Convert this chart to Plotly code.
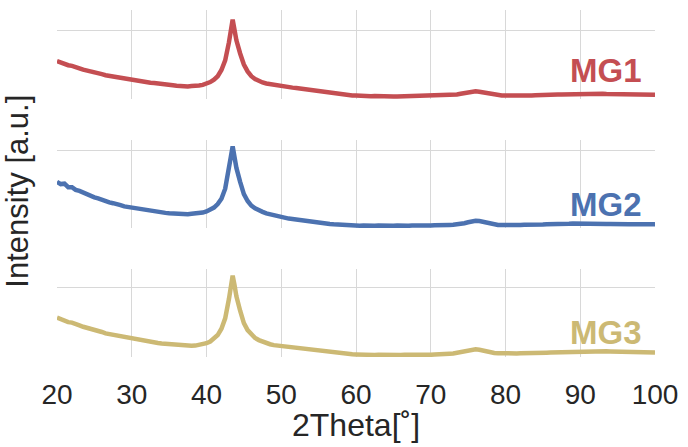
import plotly.graph_objects as go

# 2Theta positions (degrees)
two_theta = [
    20.0, 20.5, 21.0, 21.5, 22.0, 22.5, 23.0, 23.5, 24.0, 24.5,
    25.0, 25.5, 26.0, 26.5, 27.0, 27.5, 28.0, 28.5, 29.0, 29.5,
    30.0, 30.5, 31.0, 31.5, 32.0, 32.5, 33.0, 33.5, 34.0, 34.5,
    35.0, 35.5, 36.0, 36.5, 37.0, 37.5, 38.0, 38.5, 39.0, 39.5,
    40.0, 40.5, 41.0, 41.5, 42.0, 42.5, 43.0,
    43.25, 43.5, 43.75,
    44.0, 44.5, 45.0, 45.5, 46.0, 46.5, 47.0, 47.5, 48.0, 48.5,
    49.0, 49.5, 50.0, 50.5, 51.0, 51.5, 52.0, 52.5, 53.0, 53.5,
    54.0, 54.5, 55.0, 55.5, 56.0, 56.5, 57.0, 57.5, 58.0, 58.5,
    59.0, 59.5, 60.0, 60.5, 61.0, 61.5, 62.0, 62.5, 63.0, 63.5,
    64.0, 64.5, 65.0, 65.5, 66.0, 66.5, 67.0, 67.5, 68.0, 68.5,
    69.0, 69.5, 70.0, 70.5, 71.0, 71.5, 72.0, 72.5, 73.0, 73.5,
    74.0, 74.5, 75.0, 75.5, 76.0, 76.5, 77.0, 77.5, 78.0, 78.5,
    79.0, 79.5, 80.0, 80.5, 81.0, 81.5, 82.0, 82.5, 83.0, 83.5,
    84.0, 84.5, 85.0, 85.5, 86.0, 86.5, 87.0, 87.5, 88.0, 88.5,
    89.0, 89.5, 90.0, 90.5, 91.0, 91.5, 92.0, 92.5, 93.0, 93.5,
    94.0, 94.5, 95.0, 95.5, 96.0, 96.5, 97.0, 97.5, 98.0, 98.5,
    99.0, 99.5, 100.0,
]

mg1 = [
    550, 525, 515, 490, 480, 455, 445, 425, 415, 395,
    390, 370, 360, 345, 335, 320, 315, 300, 290, 285,
    275, 265, 262, 250, 245, 235, 232, 222, 215, 210,
    200, 198, 192, 186, 188, 182, 188, 184, 196, 205,
    222, 245, 280, 330, 420, 560, 820,
    1050, 1150, 1000,
    850, 660, 500, 400, 330, 290, 260, 240, 225, 215,
    200, 195, 185, 180, 172, 165, 160, 152, 148, 140,
    135, 125, 120, 108, 95, 88, 75, 68, 58, 55,
    52, 50, 50, 45, 42, 44, 40, 42, 38, 40,
    37, 40, 38, 36, 38, 35, 38, 36, 40, 37,
    40, 42, 40, 43, 45, 48, 50, 55, 58, 65,
    75, 88, 98, 108, 112, 105, 95, 80, 70, 62,
    58, 52, 50, 48, 50, 47, 52, 50, 54, 52,
    56, 55, 58, 60, 62, 60, 65, 66, 68, 70,
    72, 75, 78, 76, 80, 78, 80, 77, 76, 72,
    72, 68, 70, 66, 68, 64, 66, 62, 64, 60,
    62, 58, 60,
]

mg2 = [
    600, 570, 575, 530, 530, 495, 482, 458, 442, 422,
    398, 385, 362, 352, 332, 322, 302, 296, 280, 272,
    258, 252, 238, 236, 222, 219, 210, 206, 198, 196,
    190, 186, 184, 180, 182, 178, 184, 186, 192, 200,
    215, 235, 265, 310, 380, 510, 740,
    920, 1060, 900,
    780, 600, 440, 350, 290, 255, 225, 210, 190, 178,
    165, 150, 140, 132, 122, 118, 110, 102, 95, 88,
    82, 76, 70, 65, 58, 52, 48, 44, 40, 38,
    35, 34, 32, 30, 33, 29, 31, 28, 32, 29,
    31, 28, 30, 33, 29, 31, 28, 32, 30, 33,
    30, 34, 32, 35, 33, 37, 36, 40, 42, 46,
    52, 62, 74, 86, 95, 90, 78, 64, 52, 44,
    40, 38, 36, 38, 36, 40, 38, 42, 40, 44,
    42, 46, 45, 48, 47, 50, 52, 51, 55, 54,
    58, 56, 60, 57, 58, 55, 56, 53, 54, 52,
    53, 50, 52, 49, 51, 48, 50, 47, 49, 48,
    49, 47, 48,
]

mg3 = [
    570, 545, 535, 505, 498, 470, 458, 438, 425, 405,
    392, 372, 362, 342, 332, 315, 306, 290, 282, 268,
    258, 250, 242, 232, 226, 215, 211, 202, 196, 190,
    186, 178, 176, 168, 166, 160, 162, 165, 172, 182,
    200, 225, 262, 318, 410, 560, 840,
    1080, 1180, 1040,
    880, 670, 490, 390, 320, 275, 245, 220, 200, 185,
    172, 165, 158, 150, 145, 140, 135, 128, 122, 115,
    110, 100, 92, 85, 78, 70, 62, 56, 50, 46,
    42, 40, 38, 34, 32, 30, 33, 29, 31, 28,
    30, 32, 29, 31, 28, 32, 30, 29, 31, 33,
    30, 33, 32, 36, 35, 40, 42, 48, 52, 60,
    70, 84, 96, 106, 112, 104, 90, 76, 64, 58,
    55, 52, 52, 50, 53, 52, 55, 54, 57, 56,
    58, 60, 60, 63, 64, 66, 68, 70, 72, 75,
    76, 80, 82, 85, 88, 90, 91, 88, 86, 82,
    80, 78, 76, 74, 72, 70, 70, 68, 66, 68,
    65, 66, 64,
]

sample_names = ["MG1", "MG2", "MG3"]
x_ticks = [20, 30, 40, 50, 60, 70, 80, 90, 100]

colors = ["#C44E52", "#4C72B0", "#CCB974"]
series = [mg1, mg2, mg3]
domains = [[0.7435, 1.0], [0.3718, 0.6254], [0.0, 0.2536]]
yranges = [[0, 1290], [0, 1143], [0, 1275]]
label_y = [420, 305, 355]

FONT = "Liberation Sans, Arial, sans-serif"
TXT = "#262626"
GRID = "#D8D8D8"

fig = go.Figure()
for i, (name, ys, col) in enumerate(zip(sample_names, series, colors)):
    ax = "" if i == 0 else str(i + 1)
    fig.add_trace(go.Scatter(
        x=two_theta, y=ys, mode="lines", name=name,
        line=dict(color=col, width=4.5),
        xaxis="x" + ax, yaxis="y" + ax, showlegend=False,
    ))
    fig.add_annotation(
        x=98.5, y=label_y[i], xref="x" + ax, yref="y" + ax,
        text="<b>" + name + "</b>", showarrow=False,
        xanchor="right", yanchor="middle",
        font=dict(family=FONT, size=33, color=col),
    )

layout = dict(
    width=688, height=447,
    margin=dict(l=57, r=29, t=10, b=90),
    paper_bgcolor="white", plot_bgcolor="white",
    font=dict(family=FONT, color=TXT),
)
for i in range(3):
    ax = "" if i == 0 else str(i + 1)
    layout["xaxis" + ax] = dict(
        range=[20, 100], tickvals=x_ticks, showticklabels=(i == 2),
        showgrid=True, gridcolor=GRID, gridwidth=1.3, zeroline=False,
        showline=False, ticks="outside", ticklen=12,
        tickcolor="rgba(0,0,0,0)", anchor="y" + ax,
        tickfont=dict(family=FONT, size=28, color=TXT),
    )
    layout["yaxis" + ax] = dict(
        domain=domains[i], range=yranges[i], tickvals=[0, 1000],
        showticklabels=False, showgrid=True, gridcolor=GRID, gridwidth=1.3,
        zeroline=False, showline=False, ticks="", anchor="x" + ax,
    )
fig.update_layout(**layout)

fig.add_annotation(
    x=-0.066, y=0.478, xref="paper", yref="paper",
    text="Intensity [a.u.]", textangle=-90, showarrow=False,
    xanchor="center", yanchor="middle",
    font=dict(family=FONT, size=31, color=TXT),
)
fig.add_annotation(
    x=0.5, y=-0.197, xref="paper", yref="paper",
    text="2Theta[˚]", showarrow=False,
    xanchor="center", yanchor="middle",
    font=dict(family=FONT, size=32, color=TXT),
)

fig.write_html(
    "out.html",
    config={"displayModeBar": False},
    post_script="document.body.style.margin='0';document.body.style.padding='0';",
)
